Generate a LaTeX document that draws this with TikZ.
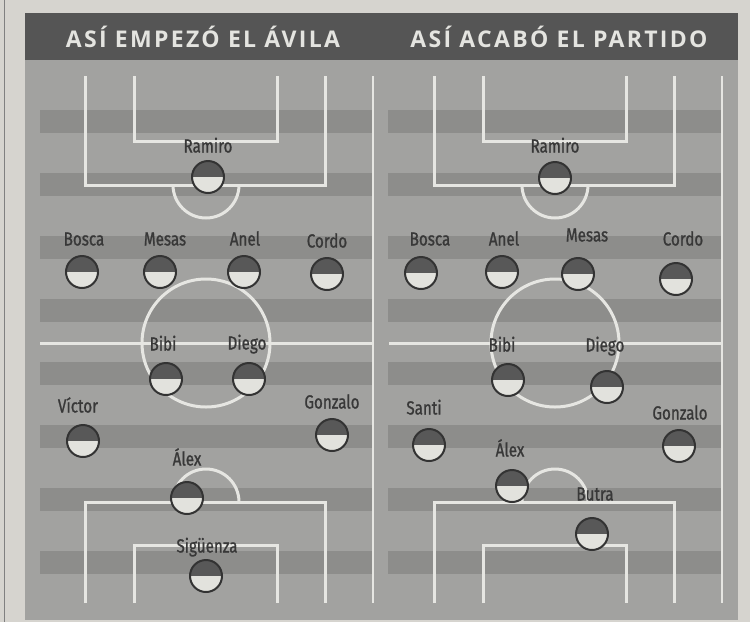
\documentclass[tikz,border=0pt]{standalone}
\usepackage{fontspec}
\setmainfont{Open Sans}
\newfontfamily\titlefont[LetterSpace=10]{Open Sans}
\newfontfamily\tagfont[FakeStretch=0.8, FakeBold=1]{Fira Sans}
\usepackage{tikz}
\usetikzlibrary{positioning}
\definecolor{paper}{HTML}{D6D4CF}
\definecolor{fieldgray}{HTML}{A2A2A0}
\definecolor{stripegray}{HTML}{8D8D8B}
\definecolor{bargray}{HTML}{555555}
\definecolor{titlewhite}{HTML}{E4E4E0}
\definecolor{linewhite}{HTML}{E6E6E2}
\definecolor{taggray}{HTML}{383838}
\definecolor{shirtdark}{HTML}{585858}
\definecolor{shirtlight}{HTML}{E2E2DD}
\definecolor{ringgray}{HTML}{333333}
\tikzstyle{pitchline} = [draw=linewhite, line width=3pt]
\tikzstyle{sideline} = [draw=linewhite, line width=1.6pt]
\tikzstyle{player} = [circle, draw=ringgray, line width=2pt, minimum size=32pt, inner sep=0pt,
  path picture={\fill[shirtdark] (path picture bounding box.north west) rectangle (path picture bounding box.east);
                \fill[shirtlight] (path picture bounding box.west) rectangle (path picture bounding box.south east);}]
\tikzstyle{tag} = [text=taggray, font=\tagfont\fontsize{19}{19}\selectfont, inner sep=0pt, text height=13pt, text depth=0pt]
\tikzstyle{headline} = [text=titlewhite, font=\titlefont\bfseries\fontsize{23}{23}\selectfont, inner sep=0pt]

\begin{document}
\begin{tikzpicture}[x=1pt, y=-1pt]
    \useasboundingbox (0,0) rectangle (750,622);
    \fill[paper] (0,0) rectangle (750,622);
    \draw[gray, line width=0.8pt] (4,0) -- (4,622);

    % title bar and field
    \fill[bargray] (25,13) rectangle (738,60);
    \fill[fieldgray] (25,60) rectangle (738,620);
    \foreach \y in {110,173,...,551} {
        \fill[stripegray] (40,\y) rectangle (372,\y+23);
        \fill[stripegray] (388,\y) rectangle (722,\y+23);
    }
    \node (titleA) [headline] at (203,37) {ASÍ EMPEZÓ EL ÁVILA};
    \node (titleB) [headline] at (559,37) {ASÍ ACABÓ EL PARTIDO};

    % pitch markings, same for both halves
    \foreach \dx in {0,349} {
        \begin{scope}[xshift=\dx]
            \path [pitchline] (85,76) -- (85,185) -- (325,185) -- (325,76);
            \path [pitchline] (134,76) -- (134,141) -- (277,141) -- (277,76);
            \path [pitchline] (239,185) arc[start angle=0, end angle=180, radius=33];
            \path [pitchline] (40,343) -- (373,343);
            \path [pitchline] (206,343) circle (64);
            \path [pitchline] (85,603) -- (85,502) -- (325,502) -- (325,603);
            \path [pitchline] (134,603) -- (134,545) -- (277,545) -- (277,603);
            \path [pitchline] (173,502) arc[start angle=180, end angle=360, radius=33];
            \path [sideline] (373,76) -- (373,603);
        \end{scope}
    }

    % starting eleven
    \node (iniRamiro) [player] at (208,177) {};
    \node (iniBosca) [player] at (82,272) {};
    \node (iniMesas) [player] at (160,272) {};
    \node (iniAnel) [player] at (244,272) {};
    \node (iniCordo) [player] at (327,274) {};
    \node (iniBibi) [player] at (166,379) {};
    \node (iniDiego) [player] at (249,379) {};
    \node (iniVictor) [player] at (83,441) {};
    \node (iniGonzalo) [player] at (332,435) {};
    \node (iniAlex) [player] at (187,498) {};
    \node (iniSiguenza) [player] at (206,576) {};

    \node (iniRamiroTag) [tag] at (208,146) {Ramiro};
    \node (iniBoscaTag) [tag] at (84,239) {Bosca};
    \node (iniMesasTag) [tag] at (165,239) {Mesas};
    \node (iniAnelTag) [tag] at (245,239) {Anel};
    \node (iniCordoTag) [tag] at (327,241) {Cordo};
    \node (iniBibiTag) [tag] at (163,344) {Bibi};
    \node (iniDiegoTag) [tag] at (247,343) {Diego};
    \node (iniVictorTag) [tag] at (78,406) {Víctor};
    \node (iniGonzaloTag) [tag] at (332,402) {Gonzalo};
    \node (iniAlexTag) [tag] at (187,459) {Álex};
    \node (iniSiguenzaTag) [tag] at (207,546) {Sigüenza};

    % final eleven
    \node (finRamiro) [player] at (555,178) {};
    \node (finBosca) [player] at (421,273) {};
    \node (finAnel) [player] at (502,272) {};
    \node (finMesas) [player] at (578,274) {};
    \node (finCordo) [player] at (676,279) {};
    \node (finBibi) [player] at (508,380) {};
    \node (finDiego) [player] at (607,387) {};
    \node (finSanti) [player] at (429,445) {};
    \node (finGonzalo) [player] at (679,446) {};
    \node (finAlex) [player] at (512,486) {};
    \node (finButra) [player] at (592,534) {};

    \node (finRamiroTag) [tag] at (555,146) {Ramiro};
    \node (finBoscaTag) [tag] at (430,239) {Bosca};
    \node (finAnelTag) [tag] at (504,239) {Anel};
    \node (finMesasTag) [tag] at (587,235) {Mesas};
    \node (finCordoTag) [tag] at (683,239) {Cordo};
    \node (finBibiTag) [tag] at (502,345) {Bibi};
    \node (finDiegoTag) [tag] at (605,345) {Diego};
    \node (finSantiTag) [tag] at (424,408) {Santi};
    \node (finGonzaloTag) [tag] at (680,413) {Gonzalo};
    \node (finAlexTag) [tag] at (510,450) {Álex};
    \node (finButraTag) [tag] at (595,494) {Butra};

\end{tikzpicture}
\end{document}
